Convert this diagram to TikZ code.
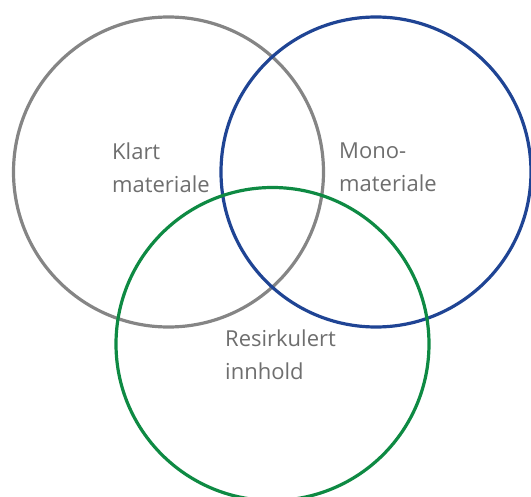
\documentclass[tikz,border=0pt]{standalone}
\usepackage{fontspec}
\setmainfont{Open Sans}
\usepackage{tikz}
\usetikzlibrary{positioning}
\definecolor{klartgray}{HTML}{858585}
\definecolor{monoblue}{HTML}{1F4494}
\definecolor{resigreen}{HTML}{0E8A43}
\definecolor{labelgray}{HTML}{6E6E6E}
\tikzset{
  setring/.style={shape=circle,draw,line width=3.2pt,inner sep=0pt,minimum size=310pt},
  setlabel/.style={text=labelgray,align=left,inner sep=0pt,anchor=base west,
    font=\fontsize{22}{33.5}\selectfont}
}

\begin{document}
\begin{tikzpicture}[x=1pt,y=-1pt]
    \useasboundingbox (0,0) rectangle (531,497);
    \clip (0,0) rectangle (531,497);
    \node[setring,draw=klartgray] (klart) at (168.5,172) {};
    \node[setring,draw=monoblue] (mono) at (376,172) {};
    \node[setring,draw=resigreen,minimum size=313pt] (resi) at (272.5,344) {};
    % anchor sits on the baseline of the second line
    \node[setlabel] (klartlabel) at (112,193) {Klart\\materiale};
    \node[setlabel] (monolabel) at (339,192) {Mono-\\materiale};
    \node[setlabel] (resilabel) at (225,380) {Resirkulert\\innhold};
  \end{tikzpicture}
\end{document}
